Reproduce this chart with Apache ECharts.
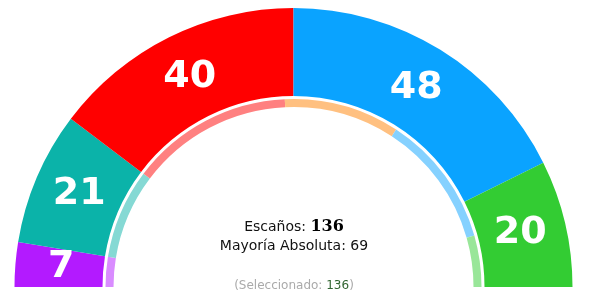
<!DOCTYPE html>
<html>
<head>
<meta charset="utf-8">
<script src="https://cdn.jsdelivr.net/npm/echarts@6/dist/echarts.min.js"></script>
<style>
html,body{margin:0;padding:0;background:#fff;}
#chart{width:589px;height:300px;}
</style>
</head>
<body>
<div id="chart"></div>
<script>
// Outer ring: seats per party
const parties = ['Morado', 'Turquesa', 'Rojo', 'Azul', 'Verde'];
const seats = [7, 21, 40, 48, 20];
const partyColors = ['#B31AFF', '#0BB3A9', '#FF0000', '#0AA3FF', '#33CC33'];

// Inner ring: selection groups
const innerGroups = ['Morado', 'Turquesa', 'Rojo', 'Naranja', 'Azul', 'Verde'];
const innerSeats = [7, 21, 38, 27, 31, 12];
const innerColors = ['#D98CFF', '#85D9D4', '#FF8080', '#FFC080', '#85D1FF', '#99E699'];

const totalSeats = 136;
const majority = 69;
const selected = 136;

const chart = echarts.init(document.getElementById('chart'));
const center = [293.5, 287];

// small inward nudge of the labels toward the ring centre
const sumSeats = seats.reduce((a, b) => a + b, 0);
let cum = 0;
const outerData = parties.map((n, i) => {
  const mid = Math.PI - (cum + seats[i] / 2) / sumSeats * Math.PI;
  cum += seats[i];
  const d = 5;
  return {
    name: n,
    value: seats[i],
    itemStyle: { color: partyColors[i] },
    label: { offset: [-d * Math.cos(mid), d * Math.sin(mid) - 1] }
  };
});

chart.setOption({
  animation: false,
  series: [
    {
      type: 'pie',
      center: center,
      radius: [191, 279],
      startAngle: 180,
      endAngle: 360,
      clockwise: true,
      avoidLabelOverlap: false,
      silent: true,
      itemStyle: { borderWidth: 0 },
      label: {
        show: true,
        position: 'inside',
        formatter: '{c}',
        color: '#fff',
        fontSize: 38,
        fontWeight: 'bold',
        fontFamily: 'DejaVu Sans'
      },
      labelLine: { show: false },
      data: outerData
    },
    {
      type: 'pie',
      center: center,
      radius: [180, 188],
      startAngle: 180,
      endAngle: 360,
      clockwise: true,
      silent: true,
      itemStyle: { borderWidth: 0 },
      label: { show: false },
      labelLine: { show: false },
      data: innerGroups.map((n, i) => ({ name: n, value: innerSeats[i], itemStyle: { color: innerColors[i] } }))
    }
  ],
  graphic: [
    {
      type: 'text',
      x: 294, y: 227,
      style: {
        text: '{a|Escaños: }{b|' + totalSeats + '}',
        align: 'center',
        verticalAlign: 'middle',
        rich: {
          a: { fontFamily: 'DejaVu Sans', fontSize: 14, fill: '#111' },
          b: { fontFamily: 'DejaVu Serif', fontSize: 16, fontWeight: 'bold', fill: '#000' }
        }
      }
    },
    {
      type: 'text',
      x: 294, y: 246,
      style: {
        text: 'Mayoría Absoluta: ' + majority,
        align: 'center',
        verticalAlign: 'middle',
        fontFamily: 'DejaVu Sans', fontSize: 14, fill: '#111'
      }
    },
    {
      type: 'text',
      x: 294, y: 286,
      style: {
        text: '{a|(Seleccionado: }{b|' + selected + '}{a|)}',
        align: 'center',
        verticalAlign: 'middle',
        rich: {
          a: { fontFamily: 'DejaVu Sans', fontSize: 12, fill: '#AAAAAA' },
          b: { fontFamily: 'DejaVu Sans', fontSize: 12, fill: '#336633' }
        }
      }
    }
  ]
});
</script>
</body>
</html>
